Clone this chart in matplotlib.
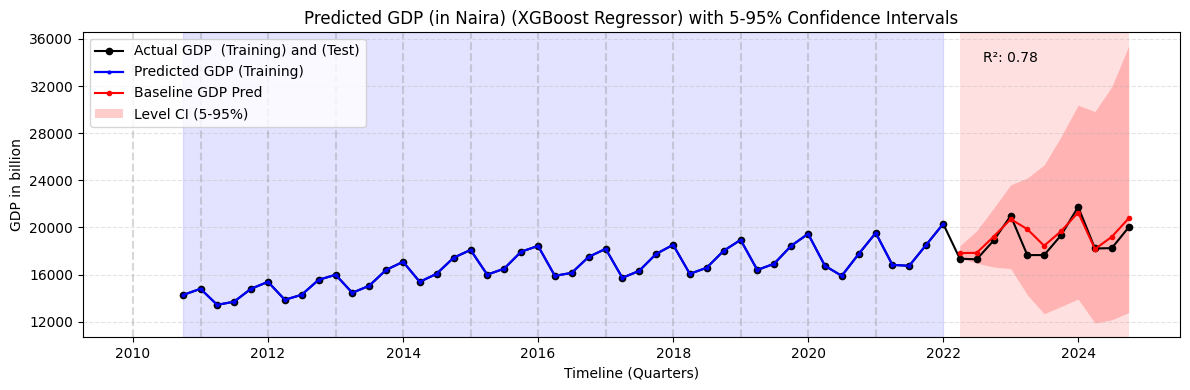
import matplotlib

matplotlib.use("Agg")
import matplotlib.dates as mdates
import matplotlib.pyplot as plt
import numpy as np
import pandas as pd
from matplotlib.ticker import MultipleLocator

# quarterly GDP (billion Naira), training period 2010Q4 - 2022Q1
train_actual = [
    14290, 14800, 13440, 13700, 14800, 15390, 13870, 14290, 15560, 15990,
    14460, 15050, 16400, 17090, 15390, 16070, 17430, 18100, 16000, 16500,
    17940, 18440, 15900, 16150, 17510, 18190, 15730, 16320, 17760, 18530,
    16070, 16580, 18020, 18950, 16400, 16920, 18440, 19460, 16750, 15900,
    17760, 19540, 16830, 16750, 18530, 20310,
]
train_pred = list(train_actual)

# test period 2022Q2 - 2024Q4
test_actual = [17350, 17300, 18900, 20990, 17660, 17660, 19350, 21750, 18220, 18250, 20030]
test_pred = [17830, 17850, 19230, 20710, 19860, 18450, 19690, 21270, 18170, 19210, 20790]
ci_low = [17390, 16980, 16640, 16520, 14290, 12680, 13300, 13930, 11890, 12170, 12790]
ci_high = [18445, 19720, 21640, 23620, 24190, 25310, 27710, 30380, 29830, 31950, 35410]
r2 = 0.78

train_dates = pd.date_range("2010-10-01", periods=len(train_actual), freq="QS")
test_dates = pd.date_range("2022-04-01", periods=len(test_actual), freq="QS")
year_lines = pd.date_range("2010-01-01", "2021-01-01", freq="YS")

fig, ax = plt.subplots(figsize=(11.9, 3.9), dpi=100)
fig.subplots_adjust(left=0.0697, right=0.9916, top=0.918, bottom=0.136)

ax.axvspan(train_dates[0], train_dates[-1], color="blue", alpha=0.11)
ax.axvspan(test_dates[0], test_dates[-1], color="red", alpha=0.12, lw=0)
for d in year_lines:
    ax.axvline(d, color="gray", linestyle="--", alpha=0.3, linewidth=1.5)

all_dates = train_dates.append(test_dates)
all_actual = np.array(train_actual + test_actual)
ax.plot(all_dates, all_actual, color="black", marker="o", markersize=4.5,
        linewidth=1.5, label="Actual GDP  (Training) and (Test)")
ax.plot(train_dates, train_pred, color="blue", marker="o", markersize=2,
        linewidth=1.6, label="Predicted GDP (Training)")
ax.plot(test_dates, test_pred, color="red", marker="o", markersize=3,
        linewidth=1.5, label="Baseline GDP Pred")
ax.fill_between(test_dates, ci_low, ci_high, color="red", alpha=0.2,
                linewidth=0, label="Level CI (5-95%)")

ax.text(0.82, 0.915, f"R²: {r2:.2f}", transform=ax.transAxes,
        fontsize=10, va="center")

ax.set_xlim(pd.Timestamp("2009-04-05"), pd.Timestamp("2025-07-05"))
ax.xaxis.set_major_locator(mdates.YearLocator(2))
ax.xaxis.set_major_formatter(mdates.DateFormatter("%Y"))
ax.yaxis.set_major_locator(MultipleLocator(4000))
ax.grid(axis="y", linestyle="--", alpha=0.35)

ax.set_title("Predicted GDP (in Naira) (XGBoost Regressor) with 5-95% Confidence Intervals")
ax.set_xlabel("Timeline (Quarters)")
ax.set_ylabel("GDP in billion")
ax.legend(loc="upper left")

fig.savefig("out.png")
